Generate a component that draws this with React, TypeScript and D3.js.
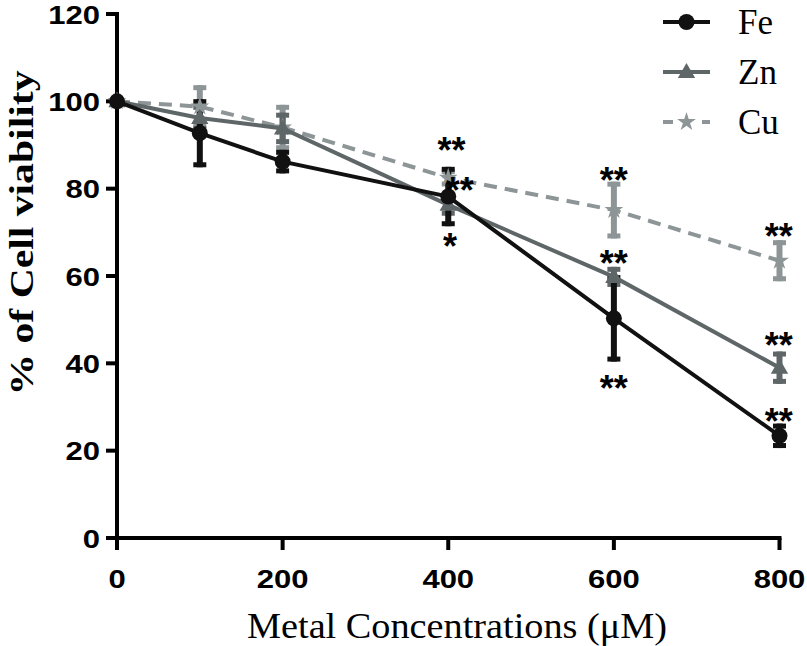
import React from "react";
import * as d3 from "d3";

const concentrations = [0, 100, 200, 400, 600, 800];
const feMean = [100, 92.7, 86.2, 78.2, 50.3, 23.4];
const feErr = [0, 7.8, 2.7, 6.8, 9.9, 2.8];
const znMean = [100, 96.2, 93.8, 76.3, 59.8, 39.0];
const znErr = [0, 3, 3.6, 2.5, 2.3, 3.7];
const cuMean = [100, 98.8, 94.0, 82.5, 75.1, 63.5];
const cuErr = [0, 4.9, 5.2, 2, 6.5, 4.7];
const xTicks = [0, 200, 400, 600, 800];
const yTicks = [0, 20, 40, 60, 80, 100, 120];
const legendNames = ["Fe", "Zn", "Cu"];
const starX = [404, 414, 402, 600, 600, 600, 799, 799, 799];
const starY = [90.7, 81.6, 68.7, 83.9, 64.8, 36.2, 71, 46.1, 28.6];
const starText = ["**", "**", "*", "**", "**", "**", "**", "**", "**"];

const W = 807;
const H = 646;
const x = d3.scaleLinear().domain([0, 800]).range([117, 779.5]);
const y = d3.scaleLinear().domain([0, 120]).range([538, 14]);

const FE = "#111111";
const ZN = "#5e6668";
const CU = "#8d9597";

type Series = { name: string; mean: number[]; err: number[]; color: string; dash?: string; marker: string };

const series: Series[] = [
  { name: "Cu", mean: cuMean, err: cuErr, color: CU, dash: "13,8", marker: "star" },
  { name: "Zn", mean: znMean, err: znErr, color: ZN, marker: "triangle" },
  { name: "Fe", mean: feMean, err: feErr, color: FE, marker: "circle" },
];

function Marker({ kind, cx, cy, color }: { kind: string; cx: number; cy: number; color: string }) {
  if (kind === "circle") return <circle cx={cx} cy={cy} r={8} fill={color} />;
  const sym = kind === "triangle" ? d3.symbolTriangle : d3.symbolStar;
  const size = kind === "triangle" ? 130 : 110;
  const p = d3.symbol().type(sym).size(size)() || "";
  return <path d={p} transform={`translate(${cx},${cy + (kind === "triangle" ? 1 : 0)})`} fill={color} />;
}

export default function App() {
  const line = d3
    .line<number>()
    .x((_, i) => x(concentrations[i]))
    .y((d) => y(d));

  const capW = 13;
  return (
    <div style={{ position: "fixed", left: 0, top: 0, width: W, height: H, background: "#fff" }}>
      <svg width={W} height={H} style={{ display: "block" }}>
        <rect width={W} height={H} fill="#fff" />
        {/* axes */}
        <line x1={x(0)} x2={x(0)} y1={y(120) - 2} y2={y(0) + 2} stroke="#000" strokeWidth={4} />
        <line x1={106} x2={x(800) + 2} y1={y(0)} y2={y(0)} stroke="#000" strokeWidth={4} />
        {yTicks.map((t) => (
          <g key={"yt" + t}>
            <line x1={106} x2={x(0)} y1={y(t)} y2={y(t)} stroke="#000" strokeWidth={4} />
            <text
              transform={`translate(100,${y(t) + 9.5}) scale(1.17,1)`}
              textAnchor="end"
              fontFamily="Liberation Sans, Arial, sans-serif"
              fontWeight="bold"
              fontSize={26.5}
              fill="#000"
            >
              {t}
            </text>
          </g>
        ))}
        {xTicks.map((t) => (
          <g key={"xt" + t}>
            <line x1={x(t)} x2={x(t)} y1={y(0)} y2={y(0) + 12} stroke="#000" strokeWidth={4} />
            <text
              transform={`translate(${x(t)},588) scale(1.17,1)`}
              textAnchor="middle"
              fontFamily="Liberation Sans, Arial, sans-serif"
              fontWeight="bold"
              fontSize={26.5}
              fill="#000"
            >
              {t}
            </text>
          </g>
        ))}
        {/* axis titles */}
        <text
          transform={`translate(33,233) rotate(-90)`}
          textAnchor="middle"
          fontFamily="Liberation Serif, Times New Roman, serif"
          fontWeight="bold"
          fontSize={34}
          textLength={325}
          lengthAdjust="spacingAndGlyphs"
          fill="#000"
        >
          % of Cell viability
        </text>
        <text
          x={457}
          y={638}
          textAnchor="middle"
          fontFamily="Liberation Serif, Times New Roman, serif"
          fontSize={36}
          textLength={420}
          lengthAdjust="spacingAndGlyphs"
          fill="#000"
        >
          Metal Concentrations (μM)
        </text>
        {/* error bars */}
        {series.map((s) => (
          <g key={"eb" + s.name}>
            {s.mean.map((m, i) =>
              s.err[i] > 0 ? (
                <g key={i}>
                  <line x1={x(concentrations[i])} x2={x(concentrations[i])} y1={y(m + s.err[i])} y2={y(m - s.err[i])} stroke={s.color} strokeWidth={6} />
                  <line x1={x(concentrations[i]) - capW / 2} x2={x(concentrations[i]) + capW / 2} y1={y(m + s.err[i]) + 2.5} y2={y(m + s.err[i]) + 2.5} stroke={s.color} strokeWidth={5} />
                  <line x1={x(concentrations[i]) - capW / 2} x2={x(concentrations[i]) + capW / 2} y1={y(m - s.err[i]) - 2.5} y2={y(m - s.err[i]) - 2.5} stroke={s.color} strokeWidth={5} />
                </g>
              ) : null
            )}
          </g>
        ))}
        {/* lines and markers */}
        {series.map((s) => (
          <g key={"ln" + s.name}>
            <path d={line(s.mean) || ""} fill="none" stroke={s.color} strokeWidth={4} strokeDasharray={s.dash} />
            {s.mean.map((m, i) => (
              <Marker key={i} kind={s.marker} cx={x(concentrations[i])} cy={y(m)} color={s.color} />
            ))}
          </g>
        ))}
        {/* significance stars */}
        {starText.map((t, i) => (
          <text
            key={"st" + i}
            x={x(starX[i])}
            y={y(starY[i]) + 21}
            textAnchor="middle"
            fontFamily="Liberation Sans, Arial, sans-serif"
            fontWeight="bold"
            fontSize={36}
            fill="#000"
          >
            {t}
          </text>
        ))}
        {/* legend */}
        {legendNames.map((n, i) => {
          const s = series.find((q) => q.name === n)!;
          const ly = 22 + i * 50;
          return (
            <g key={"lg" + n}>
              {s.dash ? (
                <>
                  <line x1={663} x2={673} y1={ly} y2={ly} stroke={s.color} strokeWidth={4} />
                  <line x1={702} x2={710} y1={ly} y2={ly} stroke={s.color} strokeWidth={4} />
                </>
              ) : (
                <line x1={663} x2={710} y1={ly} y2={ly} stroke={s.color} strokeWidth={4} />
              )}
              <Marker kind={s.marker} cx={686.5} cy={ly} color={s.color} />
              <text x={738} y={ly + 12} fontFamily="Liberation Serif, Times New Roman, serif" fontSize={35} fill="#000">
                {n}
              </text>
            </g>
          );
        })}
      </svg>
    </div>
  );
}
